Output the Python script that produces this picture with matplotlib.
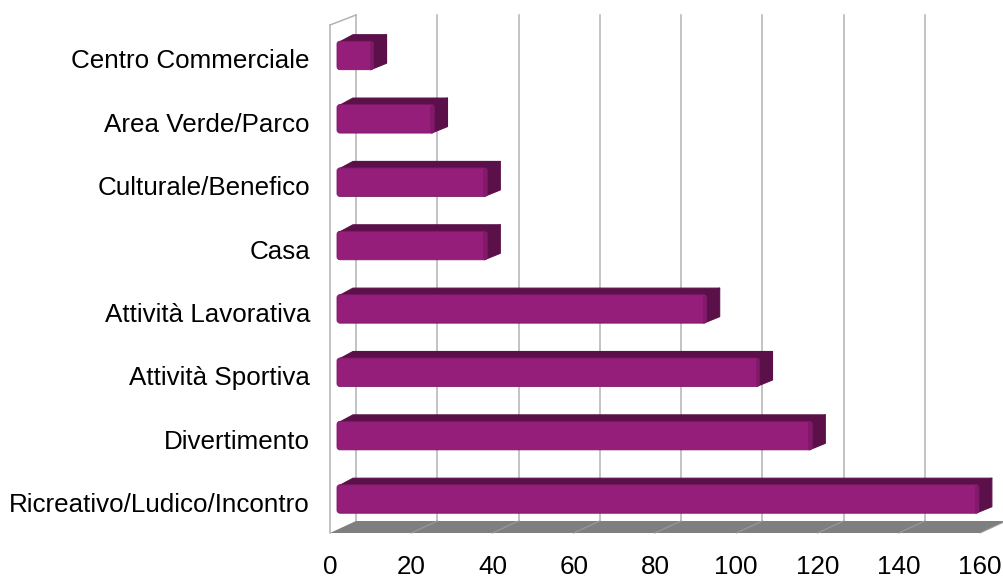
import matplotlib.pyplot as plt
from matplotlib.patches import FancyBboxPatch, Polygon

# data, bottom to top
categories = [
    "Ricreativo/Ludico/Incontro",
    "Divertimento",
    "Attività Sportiva",
    "Attività Lavorativa",
    "Casa",
    "Culturale/Benefico",
    "Area Verde/Parco",
    "Centro Commerciale",
]
values = [158, 117, 104, 91, 37, 37, 24, 9]
xticks = [0, 20, 40, 60, 80, 100, 120, 140, 160]

FRONT = "#941e7a"
DARK = "#5b1049"
FLOOR = "#7f7f7f"
GRID = "#b3b3b3"

W, H = 1004, 578
fig = plt.figure(figsize=(W / 100, H / 100), dpi=100)
ax_left, ax_bottom, ax_w, ax_h = 330, 45, 650, 508
ax = fig.add_axes([ax_left / W, ax_bottom / H, ax_w / W, ax_h / H])
xlo, xhi = 0, 160
ylo, yhi = -0.482, 7.536
ax.set_xlim(xlo, xhi)
ax.set_ylim(ylo, yhi)

# pixel -> data unit helpers
px = (xhi - xlo) / ax_w
py = (yhi - ylo) / ax_h

wall_dx, wall_dy = 26 * px, 12 * py
top_back = yhi + 10 * py

# back wall gridlines
for t in xticks:
    ax.plot([t + wall_dx, t + wall_dx], [ylo + wall_dy, top_back],
            color=GRID, lw=1.1, clip_on=False, zorder=1)

# left wall outline
ax.plot([0, 0], [ylo, yhi], color=GRID, lw=1.1, clip_on=False, zorder=1)
ax.plot([0, wall_dx], [yhi, top_back], color=GRID, lw=1.1, clip_on=False, zorder=1)

# floor
floor = Polygon([(xlo, ylo), (xhi, ylo), (xhi + wall_dx, ylo + wall_dy),
                 (xlo + wall_dx, ylo + wall_dy)],
                closed=True, facecolor=FLOOR, edgecolor="none",
                clip_on=False, zorder=2)
ax.add_patch(floor)
for t in xticks[1:]:
    ax.plot([t, t + wall_dx], [ylo, ylo + wall_dy], color="#9a9a9a",
            lw=0.8, clip_on=False, zorder=2)

# bars
off_x, off_y = 7 * px, 3.5 * py
dep_x, dep_y = 13 * px, 6.5 * py
bar_h = 28.5 * py
rx = 3 * px
for i, (cat, v) in enumerate(zip(categories, values)):
    x0 = off_x
    x1 = off_x + v
    yc = i + off_y
    y0, y1 = yc - bar_h / 2, yc + bar_h / 2
    top = Polygon([(x0 + rx, y1 - 0.5 * py), (x1, y1 - 0.5 * py),
                   (x1 + dep_x, y1 + dep_y), (x0 + dep_x + rx, y1 + dep_y)],
                  closed=True, facecolor=DARK, edgecolor=DARK, lw=0.8,
                  joinstyle="round", zorder=3, clip_on=False)
    side = Polygon([(x1 - rx, y0), (x1 + dep_x, y0 + dep_y),
                    (x1 + dep_x, y1 + dep_y), (x1 - rx, y1)],
                   closed=True, facecolor=DARK, edgecolor=DARK, lw=0.8,
                   joinstyle="round", zorder=3, clip_on=False)
    ax.add_patch(top)
    ax.add_patch(side)
    front = FancyBboxPatch((x0, y0), v, bar_h,
                           boxstyle=f"round,pad=0,rounding_size={rx}",
                           mutation_aspect=py / px,
                           facecolor=FRONT, edgecolor="#7a1864", lw=0.6,
                           zorder=4, clip_on=False)
    ax.add_patch(front)
    # darker bevel at right end of the front face
    bevel = Polygon([(x1 - 4 * px, y0 + 1 * py), (x1 - 0.5 * px, y0 + 1 * py),
                     (x1 - 0.5 * px, y1 - 1 * py), (x1 - 4 * px, y1 - 1 * py)],
                    closed=True, facecolor="#82196b", edgecolor="none",
                    zorder=5, clip_on=False)
    ax.add_patch(bevel)

ax.set_yticks(range(len(categories)))
ax.set_yticklabels(categories)
ax.set_xticks(xticks)
ax.set_xticklabels([str(t) for t in xticks])
ax.tick_params(axis="y", length=0, pad=14.4, labelsize=18.7)
ax.tick_params(axis="x", length=0, pad=16, labelsize=18.7)
for lab in ax.get_xticklabels() + ax.get_yticklabels():
    lab.set_fontfamily("Liberation Sans")
    lab.set_color("#000000")
for s in ax.spines.values():
    s.set_visible(False)
ax.set_facecolor("none")

fig.savefig("out.png", dpi=100)
